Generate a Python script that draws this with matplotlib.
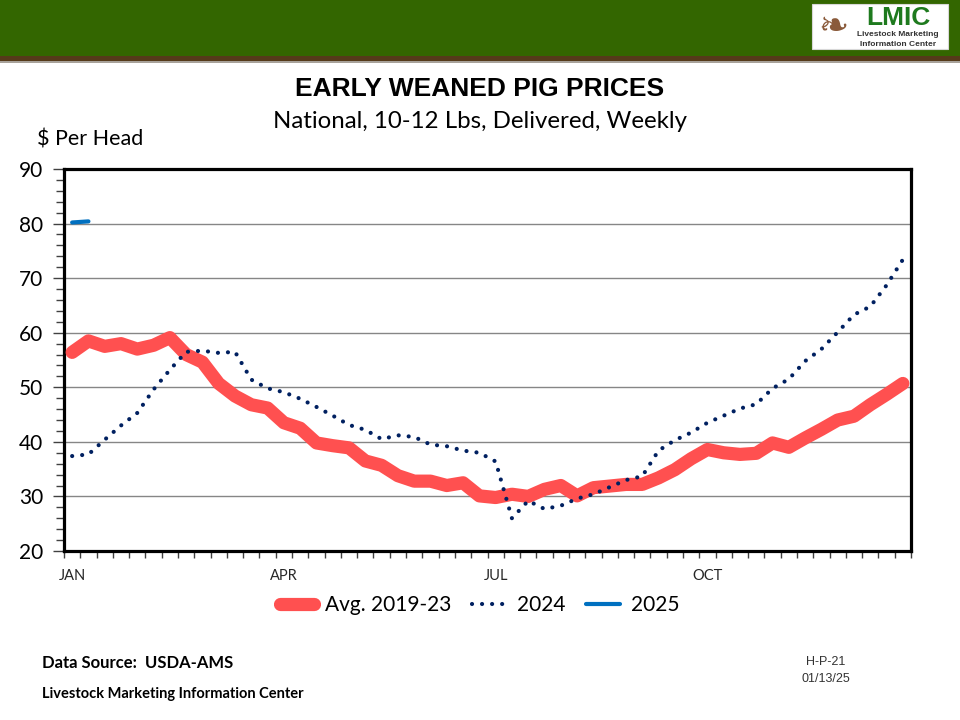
import numpy as np
import matplotlib.pyplot as plt
from matplotlib.patches import Rectangle
from matplotlib.ticker import MultipleLocator, FixedLocator, NullFormatter

# weekly values, 52 weeks
avg_2019_23 = [56.4, 58.5, 57.5, 58.0, 57.0, 57.7, 59.1, 56.0, 54.6, 50.7,
               48.4, 46.8, 46.2, 43.5, 42.5, 39.8, 39.3, 38.9, 36.5, 35.7,
               33.8, 32.8, 32.8, 32.0, 32.5, 30.1, 29.8, 30.4, 30.0, 31.3,
               32.0, 30.1, 31.6, 31.9, 32.2, 32.2, 33.4, 34.9, 36.9, 38.6,
               38.0, 37.7, 37.9, 39.8, 39.0, 40.7, 42.3, 44.0, 44.7, 46.8,
               48.7, 50.7]
y2024 = [37.4, 37.7, 40.4, 43.0, 45.3, 49.6, 53.2, 56.5, 56.7, 56.3,
         56.5, 51.4, 49.8, 49.1, 47.9, 46.4, 44.8, 43.1, 42.2, 40.5,
         41.2, 40.9, 39.5, 39.2, 38.4, 38.0, 36.4, 26.0, 29.2, 27.7,
         28.3, 29.6, 30.4, 31.7, 33.0, 33.7, 38.4, 40.3, 41.7, 43.5,
         44.8, 46.1, 46.9, 49.8, 51.5, 54.8, 57.0, 60.1, 63.3, 64.8,
         68.7, 73.4]
y2025 = [80.2, 80.4]

month_labels = ["JAN", "APR", "JUL", "OCT"]
month_weeks = [0, 13, 26, 39]

CALIBRI = ["Lato", "DejaVu Sans"]
ARIAL = ["Liberation Sans", "DejaVu Sans"]


def draw_header(fig):
    fig.patches.append(Rectangle((0, 1 - 56 / 720), 1, 56 / 720, transform=fig.transFigure,
                                 facecolor="#336600", edgecolor="none", zorder=0))
    fig.patches.append(Rectangle((0, 1 - 61 / 720), 1, 5 / 720, transform=fig.transFigure,
                                 facecolor="#553a1a", edgecolor="none", zorder=0))
    fig.patches.append(Rectangle((0, 1 - 62.5 / 720), 1, 1.5 / 720, transform=fig.transFigure,
                                 facecolor="#a8a29a", edgecolor="none", zorder=0))
    # logo box
    fig.patches.append(Rectangle((812 / 960, 1 - 49 / 720), 136 / 960, 45 / 720,
                                 transform=fig.transFigure, facecolor="white",
                                 edgecolor="#d8d8d8", lw=0.8, zorder=1))
    fig.text(898 / 960, 1 - 18 / 720, "LMIC", family=ARIAL, fontsize=19, weight="bold",
             color="#1e7a1e", ha="center", va="center", zorder=2)
    fig.text(898 / 960, 1 - 35 / 720, "Livestock Marketing", family=ARIAL, fontsize=6,
             weight="bold", color="#333333", ha="center", va="center", zorder=2)
    fig.text(898 / 960, 1 - 44 / 720, "Information Center", family=ARIAL, fontsize=6,
             weight="bold", color="#333333", ha="center", va="center", zorder=2)
    fig.text(833 / 960, 1 - 27 / 720, "\u2767", family=["DejaVu Sans"], fontsize=26,
             color="#8a5a3a", ha="center", va="center", zorder=2)


def main():
    fig = plt.figure(figsize=(9.6, 7.2), dpi=100)
    draw_header(fig)

    fig.text(0.5, 1 - 89 / 720, "EARLY WEANED PIG PRICES", family=ARIAL, fontsize=19,
             weight="bold", ha="center", va="center")
    fig.text(0.5, 1 - 121 / 720, "National, 10-12 Lbs, Delivered, Weekly", family=CALIBRI,
             fontsize=17.3, ha="center", va="center")
    fig.text(37 / 960, 1 - 140 / 720, "$ Per Head", family=CALIBRI, fontsize=15.5,
             ha="left", va="center")

    ax = fig.add_axes([64 / 960, 1 - 551 / 720, 847 / 960, 382 / 720])
    weeks = np.arange(len(avg_2019_23))

    ax.plot(weeks, avg_2019_23, color="#ff5050", lw=9.5, solid_capstyle="round",
            solid_joinstyle="round", label="Avg. 2019-23", zorder=3)
    ax.plot(weeks, y2024, color="#002060", lw=3.0, linestyle=(0, (0.01, 2.4)),
            dash_capstyle="round", label="2024", zorder=4)
    ax.plot(weeks[:len(y2025)], y2025, color="#0070c0", lw=3.0, solid_capstyle="round",
            label="2025", zorder=5)

    ax.set_xlim(-0.5, len(weeks) - 0.5)
    ax.set_ylim(20, 90)
    ax.yaxis.set_major_locator(MultipleLocator(10))
    ax.yaxis.set_minor_locator(MultipleLocator(2))
    ax.grid(axis="y", which="major", color="#868686", lw=1.0)
    ax.set_axisbelow(True)

    ax.xaxis.set_major_locator(FixedLocator(month_weeks))
    ax.set_xticklabels(month_labels)
    ax.xaxis.set_minor_locator(FixedLocator(np.arange(-0.5, len(weeks), 1.0)))
    ax.xaxis.set_minor_formatter(NullFormatter())
    ax.tick_params(axis="x", which="major", length=0, pad=13, labelsize=10.5,
                   colors="#262626")
    ax.tick_params(axis="x", which="minor", length=5, width=1, color="#404040")
    ax.tick_params(axis="y", which="major", length=8, width=1, pad=7, labelsize=15,
                   color="#404040")
    ax.tick_params(axis="y", which="minor", length=6, width=1, color="#404040")
    for lbl in ax.get_xticklabels() + ax.get_yticklabels():
        lbl.set_family(CALIBRI)
    for spine in ax.spines.values():
        spine.set_linewidth(2.3)
        spine.set_color("black")

    fig.legend(loc="center", bbox_to_anchor=(0.5, 1 - 605 / 720), ncol=3, frameon=False,
               prop={"family": CALIBRI, "size": 15}, handlelength=1.6,
               handletextpad=0.55, columnspacing=1.0)

    fig.text(42 / 960, 1 - 663 / 720, "Data Source:  USDA-AMS", family=CALIBRI,
             fontsize=12, weight="bold", ha="left", va="center")
    fig.text(42 / 960, 1 - 694 / 720, "Livestock Marketing Information Center",
             family=CALIBRI, fontsize=10.5, weight="bold", ha="left", va="center")
    fig.text(826 / 960, 1 - 662 / 720, "H-P-21", family=ARIAL, fontsize=9,
             color="#333333", ha="center", va="center")
    fig.text(826 / 960, 1 - 679 / 720, "01/13/25", family=ARIAL, fontsize=9,
             color="#333333", ha="center", va="center")

    plt.savefig("out.png", dpi=100)
    plt.close()


if __name__ == "__main__":
    main()
